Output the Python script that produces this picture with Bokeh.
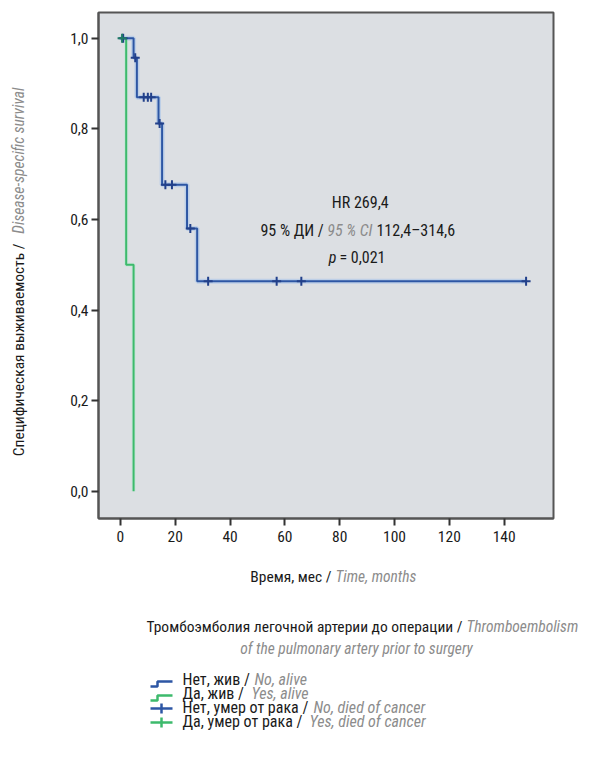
import numpy as np
from bokeh.plotting import figure
from bokeh.models import Range1d, FixedTicker, CustomJSTickFormatter
from bokeh.layouts import column, row
from bokeh.embed import file_html
from bokeh.resources import INLINE
from bokeh.core.properties import value

FONT = "Roboto Condensed, Liberation Sans Narrow, Roboto"
FS = "16px"
FS_T = "15.5px"
BLACK = "#1a1a1a"
GRAY = "#8c8c8c"
BLUE = "#2d56a4"
BLUE_DARK = "#22408a"
GREEN = "#3dba6c"

# ---- data ----
no_step_time = [0.0, 4.8, 6.0, 13.9, 15.2, 24.3, 28.0, 148.0]
no_step_surv = [1.0, 0.957, 0.870, 0.812, 0.677, 0.580, 0.464, 0.464]
no_cens_time = [1.0, 5.4, 8.5, 10.0, 11.2, 14.3, 16.4, 18.8, 25.5, 32.0, 57.0, 66.0, 148.0]
no_cens_surv = [1.0, 0.957, 0.870, 0.870, 0.870, 0.812, 0.677, 0.677, 0.580, 0.464, 0.464, 0.464, 0.464]
yes_step_time = [0.0, 2.1, 4.8]
yes_step_surv = [1.0, 0.5, 0.0]
yes_cens_time = [0.6]
yes_cens_surv = [1.0]
x_ticks = [0, 20, 40, 60, 80, 100, 120, 140]
y_ticks = [0.0, 0.2, 0.4, 0.6, 0.8, 1.0]

y_title_ru = "Специфическая выживаемость  /"
y_title_en = "Disease-specific survival"
x_title_ru = "Время, мес /"
x_title_en = "Time, months"
legend_title_ru = "Тромбоэмболия легочной артерии до операции /"
legend_title_en1 = "Thromboembolism"
legend_title_en2 = "of the pulmonary artery prior to surgery"
legend_ru = ["Нет, жив /", "Да, жив /", "Нет, умер от рака /", "Да, умер от рака /"]
legend_en = ["No, alive", "Yes, alive", "No, died of cancer", "Yes, died of cancer"]
legend_colors = [BLUE, GREEN, BLUE, GREEN]
legend_kind = ["step", "step", "cross", "cross"]

# ---- main plot ----
p = figure(width=534, height=556, output_backend="svg", toolbar_location=None,
           x_range=Range1d(-8, 158), y_range=Range1d(-0.06, 1.057),
           min_border_left=50, min_border_right=29, min_border_top=12, min_border_bottom=38)
p.background_fill_color = "#dcdfe3"
p.border_fill_color = "white"
p.outline_line_color = "#555555"
p.outline_line_width = 2
p.grid.visible = False

p.xaxis.ticker = FixedTicker(ticks=x_ticks)
p.yaxis.ticker = FixedTicker(ticks=y_ticks)
p.yaxis.formatter = CustomJSTickFormatter(code="return tick.toFixed(1).replace('.', ',');")
for ax in (p.xaxis[0], p.yaxis[0]):
    ax.axis_line_color = "#555555"
    ax.axis_line_width = 2
    ax.major_tick_line_color = "#333333"
    ax.major_tick_line_width = 2
    ax.major_tick_out = 7
    ax.major_tick_in = 0
    ax.minor_tick_line_color = None
    ax.major_label_text_font = FONT
    ax.major_label_text_font_size = "15.5px"
    ax.major_label_text_color = BLACK
p.xaxis.major_label_standoff = 5
p.yaxis.major_label_standoff = 3

# halo and curves
p.step(no_step_time, no_step_surv, mode="after", line_color="#a9c4ea", line_width=5, line_alpha=0.6)
p.step(yes_step_time, yes_step_surv, mode="after", line_color="#b5ead0", line_width=4, line_alpha=0.5)
p.step(yes_step_time, yes_step_surv, mode="after", line_color=GREEN, line_width=2)
p.step(no_step_time, no_step_surv, mode="after", line_color=BLUE, line_width=2)
p.scatter(no_cens_time, no_cens_surv, marker="cross", size=9, line_width=2, line_color=BLUE_DARK)
p.scatter(yes_cens_time, yes_cens_surv, marker="cross", size=9, line_width=2, line_color="#1f7a66")

# annotation text
tf = value(FONT)
p.text(x=[87.5], y=[0.638], text=["HR 269,4"], text_align="center", text_baseline="middle",
       text_font=tf, text_font_size=FS, text_color=BLACK)
p.text(x=[74.2], y=[0.576], text=["95 % ДИ /"], text_align="right", text_baseline="middle",
       text_font=tf, text_font_size=FS, text_color=BLACK)
p.text(x=[83.7], y=[0.576], text=["95 % CI"], text_align="center", text_baseline="middle",
       text_font=tf, text_font_size=FS, text_color=GRAY, text_font_style="italic")
p.text(x=[93.4], y=[0.576], text=["112,4–314,6"], text_align="left", text_baseline="middle",
       text_font=tf, text_font_size=FS, text_color=BLACK)
p.text(x=[78.8], y=[0.517], text=["p"], text_align="right", text_baseline="middle",
       text_font=tf, text_font_size=FS, text_color=BLACK, text_font_style="italic")
p.text(x=[79.9], y=[0.517], text=["= 0,021"], text_align="left", text_baseline="middle",
       text_font=tf, text_font_size=FS, text_color=BLACK)

# ---- y title strip ----
fy = figure(width=48, height=556, output_backend="svg", toolbar_location=None,
            x_range=Range1d(0, 48), y_range=Range1d(0, 556),
            x_axis_type=None, y_axis_type=None, min_border=0)
fy.outline_line_color = None
fy.grid.visible = False
fy.text(x=[18], y=[556 - 250], text=[y_title_ru], angle=np.pi / 2, text_align="right",
        text_baseline="middle", text_font=tf, text_font_size=FS_T, text_color=BLACK)
fy.text(x=[18], y=[556 - 243], text=[y_title_en], angle=np.pi / 2, text_align="left",
        text_baseline="middle", text_font=tf, text_font_size=FS_T, text_color=GRAY,
        text_font_style="italic")

# ---- bottom strip: x title + legend ----
fb = figure(width=582, height=185, output_backend="svg", toolbar_location=None,
            x_range=Range1d(0, 582), y_range=Range1d(0, 185),
            x_axis_type=None, y_axis_type=None, min_border=0)
fb.outline_line_color = None
fb.grid.visible = False

fb.text(x=[331], y=[165], text=[x_title_ru], text_align="right", text_baseline="middle",
        text_font=tf, text_font_size=FS_T, text_color=BLACK)
fb.text(x=[335], y=[165], text=[x_title_en], text_align="left", text_baseline="middle",
        text_font=tf, text_font_size=FS_T, text_color=GRAY, text_font_style="italic")
fb.text(x=[462], y=[115], text=[legend_title_ru], text_align="right", text_baseline="middle",
        text_font=tf, text_font_size=FS_T, text_color=BLACK)
fb.text(x=[466], y=[115], text=[legend_title_en1], text_align="left", text_baseline="middle",
        text_font=tf, text_font_size=FS_T, text_color=GRAY, text_font_style="italic")
fb.text(x=[356], y=[93], text=[legend_title_en2], text_align="center", text_baseline="middle",
        text_font=tf, text_font_size=FS_T, text_color=GRAY, text_font_style="italic")

item_y = [62, 48, 34, 20]
en_x = [254, 251, 313, 309]
for yy, ru, en, ex, col, kind in zip(item_y, legend_ru, legend_en, en_x, legend_colors, legend_kind):
    fb.text(x=[182], y=[yy], text=[ru], text_align="left", text_baseline="middle",
            text_font=tf, text_font_size=FS, text_color=BLACK)
    fb.text(x=[ex], y=[yy], text=[en], text_align="left", text_baseline="middle",
            text_font=tf, text_font_size=FS, text_color=GRAY, text_font_style="italic")
    if kind == "step":
        fb.line([150, 157, 157, 172], [yy - 7, yy - 7, yy - 2, yy - 2], line_color=col, line_width=2.5)
    else:
        fb.line([150, 172], [yy - 1, yy - 1], line_color=col, line_width=2.5)
        fb.line([161, 161], [yy - 6, yy + 4], line_color=col, line_width=2.5)

layout = column(row(fy, p), fb)
open("out.html", "w").write(file_html(layout, INLINE))
